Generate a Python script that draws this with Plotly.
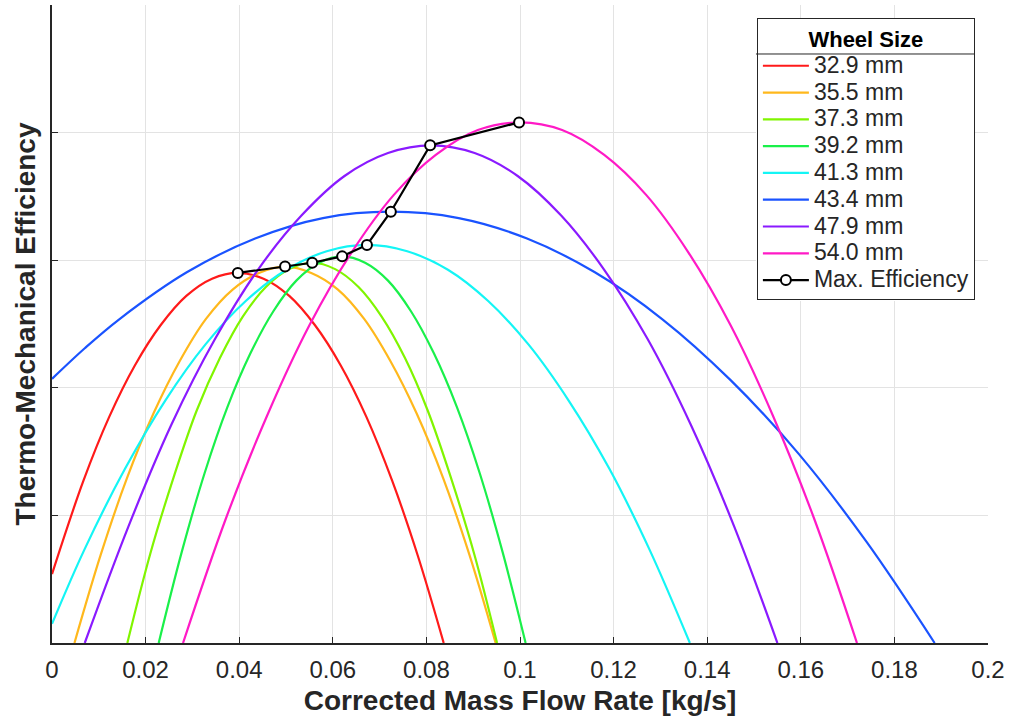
import plotly.graph_objects as go

# Wheel sizes (legend labels)
wheel_sizes = ["32.9 mm", "35.5 mm", "37.3 mm", "39.2 mm", "41.3 mm", "43.4 mm", "47.9 mm", "54.0 mm"]
colors = ["#FF1A1A", "#FFB81C", "#80F500", "#1AF04A", "#14F5F5", "#1A53FF", "#8A1AFF", "#FF1AC6"]

# Efficiency curves (x = corrected mass flow [kg/s], y = efficiency, arbitrary unlabeled units)
x_329 = [0.0, 0.0067, 0.0122, 0.0177, 0.0232, 0.0287, 0.0342, 0.0397, 0.0452, 0.0507, 0.0562, 0.0617, 0.0672, 0.0727, 0.0782, 0.0837]
y_329 = [0.54, 1.27, 1.77, 2.175, 2.49, 2.72, 2.855, 2.90, 2.855, 2.72, 2.49, 2.175, 1.77, 1.27, 0.68, 0.0]

x_355 = [0.0048, 0.0104, 0.0160, 0.0217, 0.0273, 0.0329, 0.0386, 0.0442, 0.0498, 0.0554, 0.0611, 0.0667, 0.0723, 0.0779, 0.0836, 0.0892, 0.0948]
y_355 = [0.0, 0.69, 1.29, 1.80, 2.21, 2.54, 2.77, 2.90, 2.95, 2.90, 2.77, 2.54, 2.21, 1.80, 1.29, 0.69, 0.0]

x_373 = [0.0161, 0.0210, 0.0260, 0.0309, 0.0359, 0.0408, 0.0457, 0.0507, 0.0556, 0.0605, 0.0655, 0.0704, 0.0754, 0.0803, 0.0852, 0.0902, 0.0951]
y_373 = [0.0, 0.70, 1.30, 1.82, 2.235, 2.56, 2.79, 2.93, 2.98, 2.93, 2.79, 2.56, 2.235, 1.82, 1.30, 0.70, 0.0]

x_392 = [0.0228, 0.0277, 0.0326, 0.0375, 0.0424, 0.0473, 0.0522, 0.0571, 0.0620, 0.0669, 0.0718, 0.0767, 0.0816, 0.0865, 0.0914, 0.0963, 0.1012]
y_392 = [0.0, 0.71, 1.33, 1.85, 2.27, 2.60, 2.84, 2.98, 3.03, 2.98, 2.84, 2.60, 2.27, 1.85, 1.33, 0.71, 0.0]

x_413 = [0.0, 0.0069, 0.0156, 0.0242, 0.0328, 0.0414, 0.0501, 0.0587, 0.0673, 0.0759, 0.0846, 0.0932, 0.1018, 0.1104, 0.1191, 0.1277, 0.1363]
y_413 = [0.15, 0.73, 1.365, 1.90, 2.34, 2.68, 2.925, 3.07, 3.12, 3.07, 2.925, 2.68, 2.34, 1.90, 1.365, 0.73, 0.0]

x_434 = [0.0, 0.0070, 0.0143, 0.0288, 0.0434, 0.0579, 0.0724, 0.0869, 0.1015, 0.1160, 0.1305, 0.1450, 0.1596, 0.1741, 0.1886]
y_434 = [2.07, 2.31, 2.535, 2.905, 3.17, 3.33, 3.38, 3.33, 3.17, 2.905, 2.535, 2.06, 1.48, 0.79, 0.0]

x_479 = [0.0070, 0.0163, 0.0255, 0.0348, 0.0440, 0.0533, 0.0625, 0.0718, 0.0810, 0.0903, 0.0995, 0.1088, 0.1180, 0.1273, 0.1365, 0.1458, 0.1550]
y_479 = [0.0, 0.91, 1.71, 2.38, 2.925, 3.35, 3.66, 3.84, 3.90, 3.84, 3.66, 3.35, 2.925, 2.38, 1.71, 0.91, 0.0]

x_540 = [0.028, 0.037, 0.046, 0.055, 0.064, 0.073, 0.082, 0.091, 0.100, 0.109, 0.118, 0.127, 0.136, 0.145, 0.154, 0.163, 0.172]
y_540 = [0.0, 0.96, 1.785, 2.49, 3.06, 3.51, 3.825, 4.02, 4.08, 4.02, 3.825, 3.51, 3.06, 2.49, 1.785, 0.96, 0.0]

# Maximum efficiency points
x_max = [0.0397, 0.0498, 0.0556, 0.0620, 0.0673, 0.0724, 0.0808, 0.0998]
y_max = [2.90, 2.95, 2.98, 3.03, 3.12, 3.38, 3.90, 4.08]

# Axis ticks
x_tickvals = [0, 0.02, 0.04, 0.06, 0.08, 0.1, 0.12, 0.14, 0.16, 0.18, 0.2]
x_ticktext = ["0", "0.02", "0.04", "0.06", "0.08", "0.1", "0.12", "0.14", "0.16", "0.18", "0.2"]
y_tickvals = [0, 1, 2, 3, 4, 5]

curves = [(x_329, y_329), (x_355, y_355), (x_373, y_373), (x_392, y_392),
          (x_413, y_413), (x_434, y_434), (x_479, y_479), (x_540, y_540)]

LEG_SPAN = '<span style="font-size:23px">{}</span>'

fig = go.Figure()
for (xs, ys), name, col in zip(curves, wheel_sizes, colors):
    fig.add_trace(go.Scatter(x=xs, y=ys, mode="lines", name=LEG_SPAN.format(name),
                             line=dict(color=col, width=2.2, shape="spline", smoothing=1.0)))

fig.add_trace(go.Scatter(x=x_max, y=y_max, mode="lines+markers",
                         name=LEG_SPAN.format("Max. Efficiency"),
                         line=dict(color="black", width=2.2),
                         marker=dict(symbol="circle", size=10, color="white",
                                     line=dict(color="black", width=2))))

FONT = "Liberation Sans, Arial, sans-serif"

# legend box region (paper coords) for the white backing and title separator
LEG_X0, LEG_X1 = 0.7521, 0.9861
LEG_Y0, LEG_Y1 = 0.536, 0.9796
SEP_Y = 0.9232

fig.update_layout(
    width=1011, height=719,
    margin=dict(l=52, r=23, t=5, b=76, autoexpand=False),
    paper_bgcolor="white", plot_bgcolor="white",
    font=dict(family=FONT, color="#262626"),
    xaxis=dict(range=[0, 0.2], tickvals=x_tickvals, ticktext=x_ticktext,
               ticks="inside", ticklen=6, tickcolor="#262626", tickwidth=1,
               showline=True, linecolor="#262626", linewidth=1.5,
               showgrid=True, gridcolor="#E3E3E3", gridwidth=1, zeroline=False,
               tickfont=dict(size=24, color="#262626"), ticklabelstandoff=4,
               title=dict(text="<b>Corrected Mass Flow Rate [kg/s]</b>",
                          font=dict(size=28, color="#262626"), standoff=9),
               automargin=False),
    yaxis=dict(range=[0, 5], tickvals=y_tickvals, showticklabels=False,
               ticks="inside", ticklen=6, tickcolor="#262626", tickwidth=1,
               showline=True, linecolor="#262626", linewidth=1.5,
               showgrid=True, gridcolor="#E3E3E3", gridwidth=1, zeroline=False,
               title=dict(text="<b>Thermo-Mechanical Efficiency</b>",
                          font=dict(size=28, color="#262626"), standoff=6),
               automargin=False),
    legend=dict(x=0.986, y=0.98, xanchor="right", yanchor="top",
                bgcolor="rgba(0,0,0,0)", bordercolor="#262626", borderwidth=1,
                font=dict(size=18.3, color="#262626", family=FONT),
                title=dict(text="<b>Wheel Size</b>", side="top center",
                           font=dict(size=22, color="black", family=FONT)),
                itemwidth=46, tracegroupgap=0),
    showlegend=True,
    shapes=[
        dict(type="rect", xref="paper", yref="paper",
             x0=LEG_X0, x1=LEG_X1, y0=LEG_Y0, y1=LEG_Y1,
             fillcolor="white", line=dict(width=0), layer="above"),
        dict(type="line", xref="paper", yref="paper",
             x0=LEG_X0, x1=LEG_X1, y0=SEP_Y, y1=SEP_Y,
             line=dict(color="#262626", width=1), layer="above"),
    ],
)

fig.write_html("out.html", config={"displayModeBar": False},
               post_script="document.body.style.margin='0px';")
